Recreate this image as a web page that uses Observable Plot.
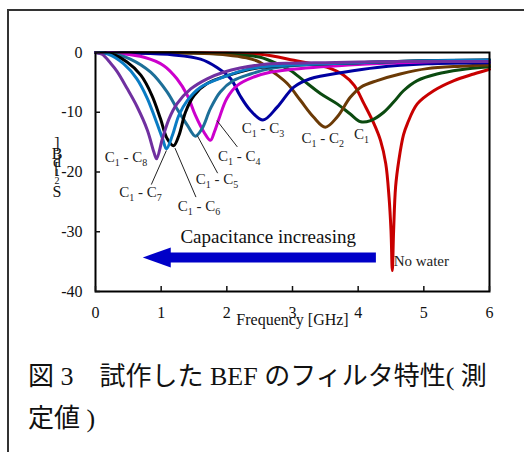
<!DOCTYPE html>
<html><head><meta charset="utf-8">
<script src="https://cdn.jsdelivr.net/npm/d3@7"></script>
<script src="https://cdn.jsdelivr.net/npm/@observablehq/plot@0.6"></script>
<style>
html,body{margin:0;padding:0;background:#fff;width:524px;height:452px;overflow:hidden;}
#frame{position:absolute;left:7px;top:9px;width:600px;height:600px;border:2px solid #333;box-sizing:border-box;pointer-events:none;}
#chart{position:relative;}
#chart svg{display:block;font-family:"Liberation Serif","Times New Roman",serif;}
#chart svg text{font-family:"Liberation Serif","Times New Roman",serif !important;font-variant:normal !important;}
#caption{position:relative;margin-top:11px;margin-left:28px;font-family:"Liberation Serif","Noto Sans CJK JP",serif;font-size:26px;line-height:42px;color:#111;white-space:nowrap;}
</style></head><body>
<div id="frame"></div>
<div id="chart"></div>
<div id="caption"></div>
<script>
// ---- data (frequency GHz, S21 dB) ----
const freqTicks = [0, 1, 2, 3, 4, 5, 6];
const dbTicks = [0, -10, -20, -30, -40];

const seriesNames = ["No water", "C1", "C1 - C2", "C1 - C3", "C1 - C4", "C1 - C5", "C1 - C6", "C1 - C7", "C1 - C8"];
const seriesColors = ["#c80000", "#0b4a10", "#6b3a06", "#0000a0", "#cc00cc", "#1d6f98", "#000000", "#0a7cc4", "#7030a0"];

const noWater = [[0,0],[1.0,-0.02],[1.5,-0.05],[2.0,-0.1],[2.51,-0.3],[3.02,-1.3],[3.53,-2.5],[3.78,-3.8],[3.94,-5.5],[4.09,-8.6],[4.24,-11.9],[4.34,-14.7],[4.42,-18.6],[4.47,-24.2],[4.50,-29.8],[4.52,-36.5],[4.54,-29.8],[4.57,-22.5],[4.62,-18.0],[4.69,-13.8],[4.75,-11.9],[4.9,-8.6],[5.15,-6.4],[5.46,-4.7],[5.76,-3.6],[6.0,-2.8]];
const c1 = [[0,0],[1.0,-0.05],[1.5,-0.1],[2.0,-0.3],[2.3,-0.5],[2.51,-0.8],[2.77,-1.9],[2.97,-3.0],[3.17,-4.7],[3.43,-6.9],[3.68,-8.6],[3.88,-10.3],[4.04,-11.6],[4.19,-11.4],[4.39,-10.0],[4.54,-8.3],[4.69,-6.4],[4.9,-4.7],[5.2,-3.6],[5.56,-2.9],[6.0,-2.4]];
const c1c2 = [[0,0],[1.0,-0.05],[1.5,-0.1],[2.0,-0.4],[2.3,-0.9],[2.5,-1.6],[2.71,-3.3],[2.92,-5.2],[3.12,-8.0],[3.32,-10.8],[3.5,-12.5],[3.68,-10.8],[3.88,-7.5],[4.04,-5.8],[4.29,-4.7],[4.64,-3.6],[5.05,-2.7],[5.56,-2.3],[6.0,-2.1]];
const c1c3 = [[0,0],[0.5,-0.1],[1.19,-0.4],[1.6,-1.1],[1.85,-2.5],[2.06,-4.4],[2.2,-7.2],[2.36,-9.7],[2.55,-11.3],[2.77,-9.1],[3.02,-5.8],[3.27,-4.4],[3.78,-3.3],[4.29,-2.5],[5.05,-1.9],[6.0,-1.7]];
const c1c4 = [[0,0],[0.4,-0.2],[0.74,-0.8],[1.04,-2.2],[1.24,-4.4],[1.4,-7.2],[1.52,-10.5],[1.65,-13.3],[1.75,-14.7],[1.81,-13.3],[1.88,-11.1],[2.0,-7.7],[2.16,-5.5],[2.41,-4.1],[2.66,-3.3],[3.0,-2.8],[4.0,-2.0],[5.0,-1.6],[6.0,-1.3]];
const c1c5 = [[0,0],[0.3,-0.3],[0.53,-1.1],[0.84,-3.3],[1.09,-6.6],[1.24,-9.4],[1.40,-12.2],[1.52,-14.0],[1.62,-12.8],[1.75,-9.4],[1.90,-6.6],[2.1,-4.7],[2.36,-3.6],[2.66,-2.7],[3.0,-2.2],[4.0,-1.7],[5.0,-1.4],[6.0,-1.2]];
const c1c6 = [[0,0],[0.25,-0.3],[0.48,-1.6],[0.69,-3.8],[0.86,-7.2],[0.99,-11.1],[1.09,-14.4],[1.19,-15.6],[1.27,-13.9],[1.37,-10.0],[1.5,-7.2],[1.7,-5.2],[2.06,-3.7],[2.46,-2.6],[3.0,-2.1],[4.0,-1.7],[5.0,-1.4],[6.0,-1.3]];
const c1c7 = [[0,0],[0.2,-0.3],[0.43,-1.9],[0.63,-4.4],[0.79,-7.7],[0.91,-11.1],[1.02,-14.4],[1.08,-16.1],[1.17,-13.9],[1.27,-10.5],[1.40,-8.0],[1.6,-5.8],[1.95,-4.1],[2.36,-2.7],[3.0,-2.1],[4.0,-1.7],[5.0,-1.4],[6.0,-1.3]];
const c1c8 = [[0,0],[0.1,-0.3],[0.23,-1.8],[0.33,-3.2],[0.48,-6.0],[0.63,-9.0],[0.79,-13.0],[0.89,-16.7],[0.93,-17.8],[1.02,-14.4],[1.12,-11.1],[1.24,-8.6],[1.45,-6.1],[1.70,-4.4],[1.95,-3.3],[2.2,-2.6],[2.66,-1.9],[3.0,-1.8],[3.5,-1.7],[4.0,-1.6],[5.0,-1.5],[6.0,-1.5]];
const seriesData = [noWater, c1, c1c2, c1c3, c1c4, c1c5, c1c6, c1c7, c1c8];

// annotation anchors (data units)
const labelText = ["C1 - C8", "C1 - C7", "C1 - C6", "C1 - C5", "C1 - C4", "C1 - C3", "C1 - C2", "C1"];
const labelFreq = [0.464, 0.685, 1.576, 1.85, 2.19, 2.55, 3.46, 4.05];
const labelDb = [-17.6, -23.4, -25.7, -21.2, -17.4, -12.6, -14.3, -13.7];
const leaderFrom = [[1.08,-16.4],[1.21,-16.0],[1.55,-13.9],[1.85,-11.4]];
const leaderTo = [[0.85,-22.1],[1.53,-24.2],[1.86,-20.2],[2.16,-15.8]];
const noWaterNote = {text: "No water", f: 4.54, db: -35.0};
const arrowNote = {text: "Capacitance increasing", f: 2.63, db: -30.9, tip: 0.72, shaftStart: 1.05, shaftEnd: 4.27, arrowDb: -34.3};
const axisTitle = "Frequency [GHz]";
const yLabelChars = ["]", "B", "d", "[", "1", "2", "S"];
const captionLines = ["図 3　試作した BEF のフィルタ特性( 測", "定値 )"];

// ---- build tables ----
const rows = [];
seriesData.forEach((s, i) => s.forEach(([f, db]) => rows.push({series: seriesNames[i], f, db})));
const labels = labelText.map((t, i) => ({text: t, f: labelFreq[i], db: labelDb[i]}));
const leaders = leaderFrom.map((a, i) => ({x1: a[0], y1: a[1], x2: leaderTo[i][0], y2: leaderTo[i][1]}));

const headSymbol = {draw(ctx) { ctx.moveTo(0, 0); ctx.lineTo(28, -10); ctx.lineTo(28, 10); ctx.closePath(); }};
const serif = '"Liberation Serif", "Times New Roman", serif';
const arrowBlue = "#0000c8";

const plot = Plot.plot({
  width: 524, height: 345,
  marginLeft: 95, marginRight: 35, marginTop: 52, marginBottom: 54,
  x: {domain: [0, 6], label: null},
  y: {domain: [-40, 0], label: null},
  color: {domain: seriesNames, range: seriesColors},
  style: {fontFamily: serif, fontSize: "16px", color: "#111", background: "transparent"},
  marks: [
    Plot.line(rows, {x: "f", y: "db", z: "series", stroke: "series", strokeWidth: 3, curve: "catmull-rom"}),
    Plot.link(leaders, {x1: "x1", y1: "y1", x2: "x2", y2: "y2", stroke: "#222", strokeWidth: 1}),
    Plot.text(labels, {x: "f", y: "db", text: "text", fontSize: 15, fill: "#222", fontFamily: serif}),
    Plot.text([noWaterNote], {x: "f", y: "db", text: "text", fontSize: 15, fill: "#222", textAnchor: "start", fontFamily: serif}),
    Plot.text([arrowNote], {x: "f", y: "db", text: "text", fontSize: 19, fill: "#111", fontFamily: serif}),
    Plot.link([arrowNote], {x1: "shaftStart", x2: "shaftEnd", y1: "arrowDb", y2: "arrowDb", stroke: arrowBlue, strokeWidth: 10}),
    Plot.dot([arrowNote], {x: "tip", y: "arrowDb", symbol: headSymbol, fill: arrowBlue, stroke: null, r: 1}),
    Plot.frame({stroke: "#000", strokeWidth: 2}),
    Plot.axisX({ticks: freqTicks, tickSize: 5, dy: -5, text: null, strokeWidth: 1.5, label: null}),
    Plot.axisY({ticks: dbTicks, tickSize: 5, dx: 5, text: null, strokeWidth: 1.5, label: null}),
    Plot.axisX({ticks: freqTicks, tickSize: 0, tickPadding: 15, fontSize: 16, fontFamily: serif, label: null, fill: "#111", tickFormat: d => String(d)}),
    Plot.axisY({ticks: dbTicks, tickSize: 0, tickPadding: 13, fontSize: 16, fontFamily: serif, label: null, tickFormat: d => String(d), fill: "#111"}),
    Plot.text([axisTitle], {frameAnchor: "bottom", dy: 33, text: d => d, fontSize: 16, fill: "#111", fontFamily: serif})
  ]
});
document.getElementById("chart").appendChild(plot);
d3.select(plot).selectAll("text, g").style("font-family", serif).style("font-variant", "normal");

// subscripts for the C labels
const NS = "http://www.w3.org/2000/svg";
d3.select(plot).selectAll("text").each(function() {
  const s = this.textContent;
  if (!/^C\d/.test(s) || this.querySelector("tspan")) return;
  this.textContent = "";
  let sub = false;
  s.split(/(\d)/).forEach(p => {
    if (!p) return;
    const t = document.createElementNS(NS, "tspan");
    t.textContent = p;
    if (/\d/.test(p)) { t.setAttribute("font-size", "10"); t.setAttribute("dy", sub ? "0" : "4"); sub = true; }
    else { t.setAttribute("font-size", "15"); if (sub) { t.setAttribute("dy", "-4"); sub = false; } }
    this.appendChild(t);
  });
});

// garbled vertical y label (characters stacked upright)
const yl = d3.select(plot).append("g").attr("font-family", serif).attr("fill", "#111").attr("text-anchor", "middle");
const ySteps = [143, 153, 161, 168, 172, 180, 191];
const ySizes = [16, 16, 16, 16, 10, 10, 16];
yLabelChars.forEach((c, i) => yl.append("text").attr("x", 57).attr("y", ySteps[i]).attr("dy", "0.35em").attr("font-size", ySizes[i]).text(c));

// caption below the chart
const cap = document.getElementById("caption");
captionLines.forEach(l => { const d = document.createElement("div"); d.textContent = l; cap.appendChild(d); });
</script>
</body></html>
